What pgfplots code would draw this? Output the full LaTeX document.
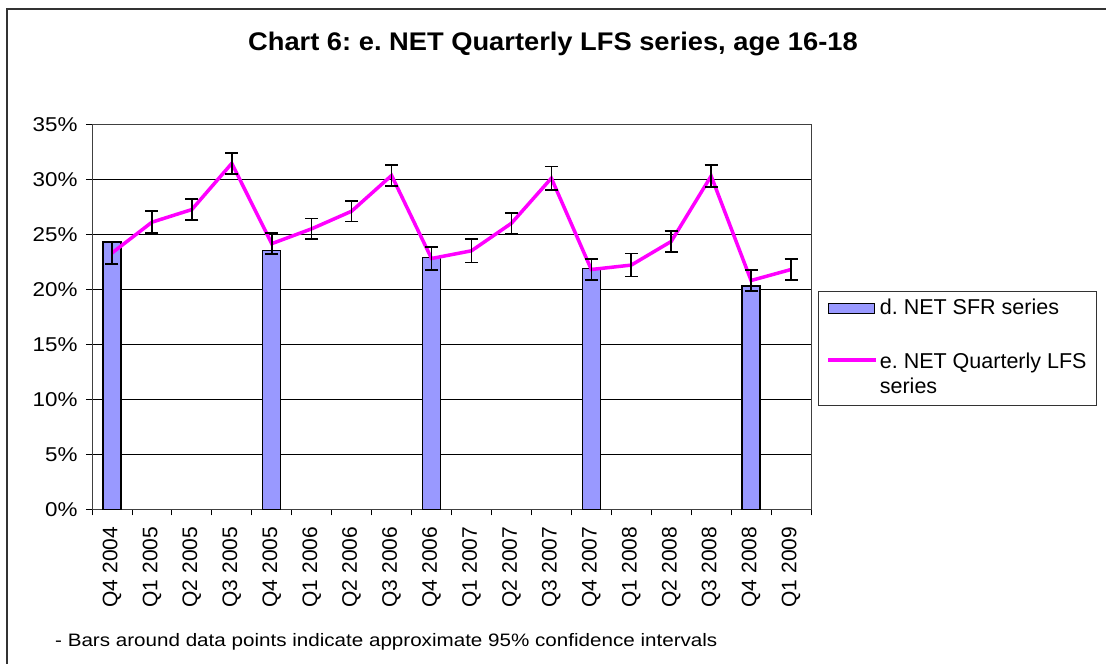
\documentclass[border=0pt]{standalone}
\usepackage{pgfplots}
\pgfplotsset{compat=1.18}
\usepackage{pgfplotstable}
\usepackage{fontspec}
\setmainfont{Liberation Sans}
\frenchspacing
\definecolor{barblue}{HTML}{9999FF}
\definecolor{lfsmag}{HTML}{FF00FF}
\pgfplotstableread{
idx val err
0 23.3 1.0
1 26.1 1.0
2 27.25 0.95
3 31.45 0.95
4 24.15 0.95
5 25.5 0.95
6 27.1 0.95
7 30.35 0.95
8 22.8 1.05
9 23.5 1.05
10 26.0 0.95
11 30.1 1.05
12 21.8 0.95
13 22.2 1.05
14 24.35 0.95
15 30.3 1.0
16 20.8 0.95
17 21.8 0.95
}\lfs
\pgfplotstableread{
idx val
0 24.3
4 23.5
8 22.9
12 21.9
16 20.3
}\sfr
\begin{document}
\begin{tikzpicture}
\useasboundingbox (0pt,0pt) rectangle (1106pt,664pt);
% outer frame (cropped on right and bottom)
\draw[line width=2pt, black!80] (7pt,-5pt) -- (7pt,654.7pt) -- (1111pt,654.7pt);
\node[font=\fontsize{25.5}{30}\selectfont\bfseries] at (553pt,620pt) {\scalebox{1.07}[1]{Chart 6: e. NET Quarterly LFS series, age 16-18}};
\node[anchor=base west, inner sep=0pt, font=\fontsize{18}{21}\selectfont] at (55pt,17pt) {\scalebox{1.145}[1]{- Bars around data points indicate approximate 95\% confidence intervals}};
\begin{axis}[
  at={(92pt,154.7pt)}, anchor=south west,
  scale only axis, width=719pt, height=385pt,
  xmin=-0.5, xmax=17.5, ymin=0, ymax=35,
  axis line style={black!75, line width=0.9pt},
  xtick={0,...,17},
  xticklabels={Q4 2004,Q1 2005,Q2 2005,Q3 2005,Q4 2005,Q1 2006,Q2 2006,Q3 2006,Q4 2006,Q1 2007,Q2 2007,Q3 2007,Q4 2007,Q1 2008,Q2 2008,Q3 2008,Q4 2008,Q1 2009},
  minor xtick={-0.5,0.5,...,17.5},
  major x tick style={draw=none},
  minor tick length=6pt,
  ytick={0,5,...,35},
  major tick length=6pt,
  tick align=outside,
  tick pos=left,
  tick style={black, line width=0.8pt},
  ymajorgrids,
  grid style={black, line width=0.7pt},
  /pgf/number format/assume math mode=true,
  yticklabel={\scalebox{1.12}[1]{\pgfmathprintnumber{\tick}\%}},
  yticklabel style={font=\fontsize{20}{23}\selectfont, xshift=-5pt},
  xticklabel style={font=\fontsize{21}{24}\selectfont, rotate=90, anchor=east, xshift=-8pt},
  legend style={at={(1.0097,0.568)}, anchor=north west, draw=black!80, line width=0.8pt,
    font=\fontsize{21.5}{25}\selectfont, cells={anchor=west},
    nodes={inner ysep=1pt, text height=16pt, text depth=5pt},
    inner xsep=8pt, inner ysep=6pt, row sep=2pt},
  clip=false,
]
\addplot[ybar, bar width=18pt, fill=barblue, draw=black, line width=1.2pt,
  legend image code/.code={\draw[fill=barblue, draw=black, line width=1.2pt] (0pt,-5pt) rectangle (46pt,5pt);}]
  table[x=idx, y=val] {\sfr};
\addlegendentry{d. NET SFR series}
\addplot[lfsmag, line width=3.5pt, mark=none,
  legend image code/.code={\draw[lfsmag, line width=3.5pt] (0pt,-12pt) -- (48pt,-12pt);},
  error bars/.cd, y dir=both, y explicit,
  error bar style={black, line width=1.6pt},
  error mark options={black, rotate=90, mark size=6.5pt, line width=1.6pt}]
  table[x=idx, y=val, y error=err] {\lfs};
\addlegendentry[text height=45pt]{e. NET Quarterly LFS\hspace{7pt}}
\addlegendimage{empty legend}
\addlegendentry{series}
\end{axis}
\end{tikzpicture}
\end{document}
